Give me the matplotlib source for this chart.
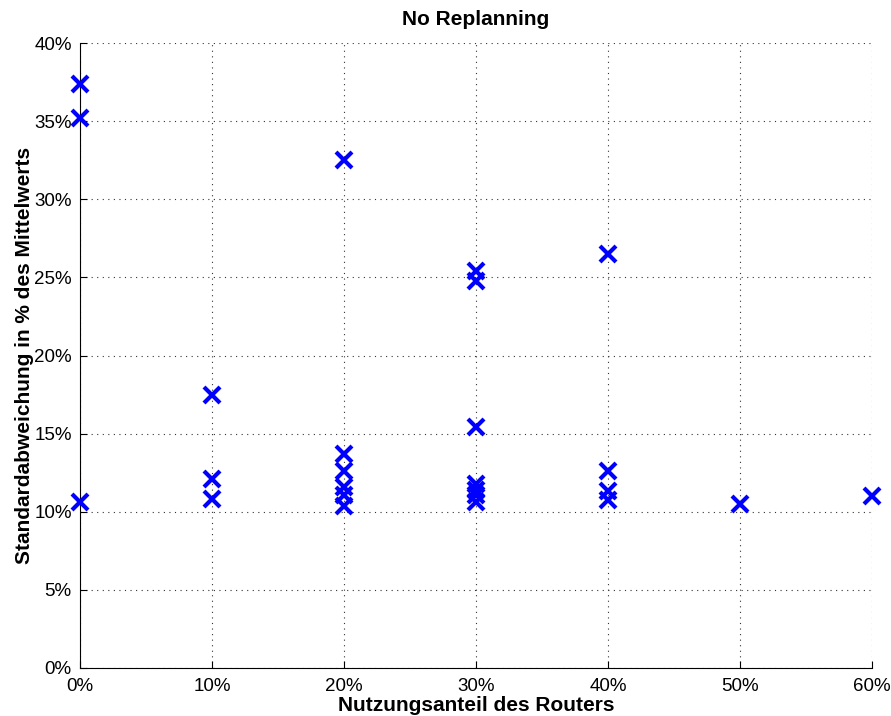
import matplotlib
matplotlib.use("Agg")
import matplotlib.pyplot as plt
from matplotlib.ticker import FuncFormatter

plt.rcParams['font.family'] = ['Liberation Sans', 'DejaVu Sans']

x_vals = [0, 0, 0,
          10, 10, 10,
          20, 20, 20, 20, 20, 20,
          30, 30, 30, 30, 30, 30, 30,
          40, 40, 40, 40,
          50, 60]
y_vals = [37.4, 35.2, 10.6,
          17.5, 12.1, 10.8,
          32.5, 13.7, 12.6, 11.6, 11.1, 10.4,
          25.4, 24.8, 15.4, 11.8, 11.4, 11.1, 10.6,
          26.5, 12.6, 11.3, 10.75,
          10.5, 11.0]
x_ticks = [0, 10, 20, 30, 40, 50, 60]
y_ticks = [0, 5, 10, 15, 20, 25, 30, 35, 40]

fig = plt.figure(figsize=(8.91, 7.16), dpi=100)
ax = fig.add_axes([80/891, 48/716, 792/891, 625/716])
ax.plot(x_vals, y_vals, linestyle='none', marker='x', color='#0000ff',
        markersize=11, markeredgewidth=3.0, clip_on=False, zorder=5)
ax.set_xlim(0, 60)
ax.set_ylim(0, 40)
ax.set_xticks(x_ticks)
ax.set_yticks(y_ticks)
fmt = FuncFormatter(lambda v, p: f"{v:g}%")
ax.xaxis.set_major_formatter(fmt)
ax.yaxis.set_major_formatter(fmt)
ax.tick_params(direction='in', length=5, labelsize=13.5, colors='black')
ax.tick_params(axis='x', pad=7)
ax.tick_params(axis='y', pad=6)
ax.grid(True, linestyle=(0, (1, 4)), color='#333333', linewidth=0.8)
ax.spines['top'].set_visible(False)
ax.spines['right'].set_visible(False)
ax.set_title('No Replanning', fontsize=15, fontweight='bold', pad=13)
ax.set_xlabel('Nutzungsanteil des Routers', fontsize=15, fontweight='bold', labelpad=1)
ax.set_ylabel('Standardabweichung in % des Mittelwerts', fontsize=15, fontweight='bold', labelpad=0)
fig.savefig('out.png', dpi=100)
